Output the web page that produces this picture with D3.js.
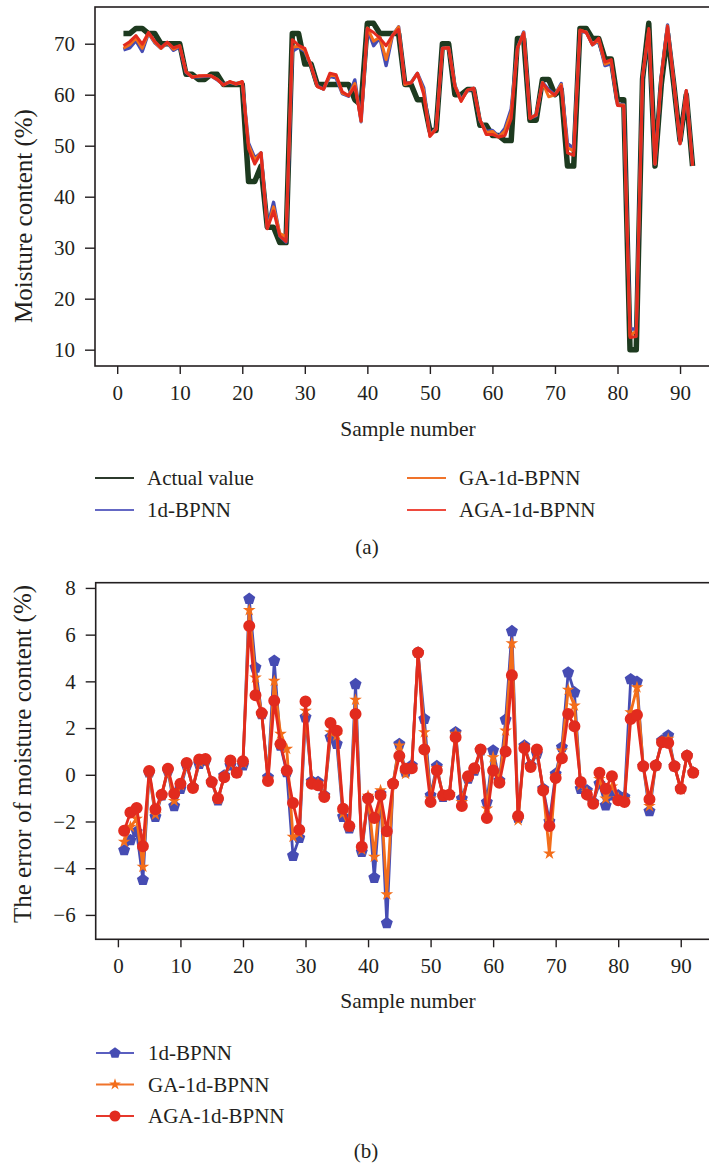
<!DOCTYPE html>
<html>
<head>
<meta charset="utf-8">
<script src="https://cdn.jsdelivr.net/npm/d3@7"></script>
<style>
  body { margin: 0; background: #fff; }
  svg text { font-family: "Liberation Serif", "DejaVu Serif", serif; fill: #231f20; }
</style>
</head>
<body>
<div id="chart"></div>
<script>
// ---- data ----
const actualValue = [72,72,73,73,72,72,70,70,70,70, 64,64,63,63,64,64,62,62,62,62,
  43,43,46,34,34,31,31,72,72,66, 66,62,62,62,62,62,62,59,58,74, 74,72,72,72,72,62,62,59,59,53,
  53,70,70,60,60,61,61,54,54,52, 52,51,51,71,71,55,55,63,63,60, 61,46,46,73,73,71,71,67,67,59,
  59,10,10,63,74,46,62,72,62,51, 60,46];

const bpnnPred = [68.8,69.2,70.6,68.5,72.1,70.2,69.1,70.2,68.7,69.4, 64.4,63.5,63.5,63.6,63.7,62.9,62.0,62.4,62.1,62.4,
  50.5,47.6,48.6,33.9,38.9,32.3,31.1,68.5,69.3,68.5, 65.7,61.7,61.1,63.6,63.3,60.2,59.7,62.9,54.7,73.0,
  69.6,71.2,65.7,71.6,73.3,62.1,62.4,64.2,61.4,52.1, 53.4,69.1,69.2,61.8,59.0,60.8,61.2,55.0,52.8,53.0,
  51.8,53.4,57.2,69.2,72.3,55.4,55.9,62.4,61.0,60.0, 62.2,50.4,49.5,72.4,72.3,69.8,70.6,65.7,66.1,58.1,
  58.1,14.1,14.0,63.4,72.4,46.4,63.5,73.7,62.4,50.4, 60.8,46.1];

const gaPred = [69.1,69.8,71.1,69.1,72.1,70.3,69.1,70.2,68.9,69.6, 64.5,63.5,63.6,63.7,63.7,63.0,61.9,62.5,62.1,62.5,
  50.1,47.2,48.6,33.8,38.0,32.8,32.1,69.3,69.5,68.7, 65.7,61.6,61.1,63.8,63.7,60.3,59.8,62.2,54.8,73.1,
  70.5,71.3,66.9,71.6,73.3,62.0,62.4,64.2,60.8,52.0, 53.3,69.1,69.2,61.8,58.8,60.9,61.2,55.1,52.6,52.8,
  51.7,52.9,56.6,69.1,72.2,55.4,56.0,62.4,59.6,60.0, 62.0,49.6,49.0,72.6,72.3,69.8,70.8,66.0,66.5,58.0,
  58.0,12.7,13.7,63.4,72.7,46.4,63.4,73.5,62.4,50.4, 60.8,46.1];

const agaPred = [69.6,70.4,71.6,69.9,72.2,70.5,69.2,70.3,69.2,69.6, 64.5,63.4,63.7,63.7,63.7,63.0,61.9,62.6,62.1,62.6,
  49.4,46.4,48.6,33.7,37.2,32.3,31.2,70.8,69.7,69.1, 65.6,61.6,61.1,64.2,63.9,60.6,59.8,61.6,54.9,73.0,
  72.2,71.1,69.6,71.6,72.8,62.3,62.3,64.2,60.1,51.8, 53.2,69.1,69.2,61.6,58.7,60.9,61.3,55.1,52.2,52.2,
  51.7,52.0,55.3,69.2,72.1,55.3,56.1,62.3,60.8,59.9, 61.7,48.6,48.1,72.7,72.2,69.8,71.1,66.4,66.9,57.9,
  57.8,12.4,12.6,63.4,73.0,46.4,63.4,73.4,62.4,50.4, 60.8,46.1];

const bpnnError = [-3.23,-2.80,-2.44,-4.50,0.10,-1.80,-0.88,0.18,-1.34,-0.60, 0.40,-0.53,0.47,0.61,-0.31,-1.10,-0.03,0.40,0.09,0.40,
  7.53,4.59,2.60,-0.10,4.88,1.25,0.11,-3.47,-2.70,2.46, -0.28,-0.31,-0.88,1.61,1.32,-1.80,-2.30,3.88,-3.30,-1.00,
  -4.41,-0.81,-6.35,-0.38,1.32,0.11,0.40,5.23,2.39,-0.88, 0.37,-0.95,-0.85,1.82,-1.02,-0.17,0.18,1.04,-1.17,1.04,
  -0.24,2.36,6.15,-1.85,1.25,0.40,0.90,-0.60,-2.00,0.04, 1.18,4.38,3.53,-0.60,-0.67,-1.17,-0.38,-1.31,-0.88,-0.88,
  -0.95,4.09,3.98,0.37,-1.56,0.40,1.46,1.68,0.37,-0.60, 0.82,0.09];

const gaError = [-2.87,-2.23,-1.88,-3.94,0.12,-1.70,-0.86,0.22,-1.12,-0.45, 0.45,-0.55,0.55,0.65,-0.31,-1.05,-0.07,0.50,0.09,0.50,
  7.05,4.16,2.62,-0.17,4.02,1.75,1.11,-2.66,-2.50,2.74, -0.31,-0.38,-0.92,1.82,1.68,-1.66,-2.23,3.21,-3.20,-0.90,
  -3.51,-0.67,-5.12,-0.38,1.25,0.04,0.35,5.23,1.82,-1.02, 0.28,-0.90,-0.85,1.75,-1.17,-0.10,0.23,1.06,-1.45,0.75,
  -0.30,1.89,5.63,-1.95,1.20,0.36,1.00,-0.64,-3.37,-0.05, 1.04,3.64,2.96,-0.45,-0.75,-1.20,-0.18,-1.02,-0.50,-1.00,
  -1.05,2.67,3.74,0.37,-1.34,0.40,1.42,1.54,0.37,-0.62, 0.82,0.09];

const agaError = [-2.40,-1.62,-1.42,-3.06,0.16,-1.48,-0.85,0.26,-0.81,-0.38, 0.50,-0.57,0.65,0.68,-0.31,-1.00,-0.11,0.61,0.09,0.58,
  6.37,3.41,2.64,-0.27,3.17,1.32,0.18,-1.21,-2.35,3.14, -0.38,-0.45,-0.95,2.22,1.89,-1.45,-2.19,2.60,-3.08,-1.02,
  -1.85,-0.88,-2.42,-0.38,0.80,0.26,0.28,5.23,1.08,-1.17, 0.18,-0.88,-0.85,1.61,-1.34,-0.06,0.28,1.08,-1.85,0.18,
  -0.34,1.00,4.26,-1.76,1.14,0.33,1.08,-0.67,-2.19,-0.14, 0.71,2.60,2.08,-0.31,-0.85,-1.24,0.09,-0.60,-0.06,-1.09,
  -1.17,2.39,2.56,0.37,-1.05,0.40,1.39,1.36,0.37,-0.60, 0.82,0.09];

const xTicks = [0, 10, 20, 30, 40, 50, 60, 70, 80, 90];
const yTicksTop = [10, 20, 30, 40, 50, 60, 70];
const yTicksBottom = [-6, -4, -2, 0, 2, 4, 6, 8];

// ---- styles ----
const colors = { actual: "#1d3a1f", bpnn: "#464cb3", ga: "#f36d1a", aga: "#e22b1e", axis: "#231f20" };

// regular pentagon marker (d3 has none)
const symbolPentagon = {
  draw(context, size) {
    const r = Math.sqrt(size / 2.378);
    for (let i = 0; i < 5; i++) {
      const a = -Math.PI / 2 + i * 2 * Math.PI / 5;
      if (i) context.lineTo(r * Math.cos(a), r * Math.sin(a));
      else context.moveTo(r * Math.cos(a), r * Math.sin(a));
    }
    context.closePath();
  }
};

const svg = d3.select("#chart").append("svg")
  .attr("width", 709)
  .attr("height", 1166);

// padded domain like matplotlib's default 5% margins
function padded(values) {
  const [lo, hi] = d3.extent(values);
  const m = (hi - lo) * 0.05;
  return [lo - m, hi + m];
}

function drawAxes(g, x, y, yTicks, box) {
  const xAxis = d3.axisBottom(x).tickValues(xTicks).tickSize(8).tickPadding(11).tickFormat(d3.format("d"));
  const yAxis = d3.axisLeft(y).tickValues(yTicks).tickSize(10).tickPadding(10).tickFormat(d3.format("d"));

  g.append("g").attr("transform", `translate(0,${box.bottom})`).call(xAxis)
    .call(a => a.select(".domain").remove());
  g.append("g").attr("transform", `translate(${box.left},0)`).call(yAxis)
    .call(a => a.select(".domain").remove());

  g.selectAll(".tick line").attr("stroke", colors.axis).attr("stroke-width", 1.4);
  g.selectAll(".tick text").attr("font-size", 21).attr("fill", colors.axis);

  g.append("rect")
    .attr("x", box.left).attr("y", box.top)
    .attr("width", box.right - box.left).attr("height", box.bottom - box.top)
    .attr("fill", "none").attr("stroke", colors.axis).attr("stroke-width", 1.6);
}

// ---- (a) moisture content ----
function drawTop() {
  const box = { left: 95, right: 721, top: 7, bottom: 366 };
  const samples = actualValue.map((d, i) => i + 1);

  const x = d3.scaleLinear().domain(padded(samples)).range([box.left, box.right]);
  const y = d3.scaleLinear().domain(padded(actualValue)).range([box.bottom, box.top]);

  const g = svg.append("g");
  const line = d3.line().x((d, i) => x(i + 1)).y(d => y(d));

  const series = [
    { values: actualValue, color: colors.actual, width: 5.5 },
    { values: bpnnPred, color: colors.bpnn, width: 3.4 },
    { values: gaPred, color: colors.ga, width: 3 },
    { values: agaPred, color: colors.aga, width: 3 }
  ];

  g.selectAll(".series")
    .data(series)
    .join("path")
    .attr("class", "series")
    .attr("d", d => line(d.values))
    .attr("fill", "none")
    .attr("stroke", d => d.color)
    .attr("stroke-width", d => d.width)
    .attr("stroke-linejoin", "round");

  drawAxes(g, x, y, yTicksTop, box);

  g.append("text").attr("x", 408).attr("y", 436).attr("text-anchor", "middle")
    .attr("font-size", 21.5).text("Sample number");
  g.append("text").attr("transform", "translate(32,216) rotate(-90)").attr("text-anchor", "middle")
    .attr("font-size", 25).text("Moisture content (%)");

  const legend = [
    { name: "Actual value", color: "#2c3a2c", col: 0, row: 0 },
    { name: "1d-BPNN", color: "#6468c4", col: 0, row: 1 },
    { name: "GA-1d-BPNN", color: "#f0732a", col: 1, row: 0 },
    { name: "AGA-1d-BPNN", color: "#ee4a3e", col: 1, row: 1 }
  ];
  const lg = g.selectAll(".legend").data(legend).join("g")
    .attr("class", "legend")
    .attr("transform", d => `translate(${d.col ? 407 : 95},${478 + d.row * 32})`);
  lg.append("line").attr("x1", 0).attr("x2", 39)
    .attr("stroke", d => d.color).attr("stroke-width", 1.8);
  lg.append("text").attr("x", 52).attr("y", 7).attr("font-size", 21).text(d => d.name);

  g.append("text").attr("x", 367).attr("y", 554).attr("text-anchor", "middle")
    .attr("font-size", 21).text("(a)");
}

// ---- (b) prediction error ----
function drawBottom() {
  const box = { left: 95.7, right: 721.7, top: 582.7, bottom: 939.3 };
  const samples = agaError.map((d, i) => i + 1);

  const x = d3.scaleLinear().domain(padded(samples)).range([box.left, box.right]);
  const y = d3.scaleLinear().domain(padded(bpnnError.concat(gaError, agaError))).range([box.bottom, box.top]);

  const g = svg.append("g");
  const line = d3.line().x((d, i) => x(i + 1)).y(d => y(d));

  const series = [
    { name: "1d-BPNN", values: bpnnError, color: colors.bpnn, symbol: symbolPentagon, size: 95 },
    { name: "GA-1d-BPNN", values: gaError, color: colors.ga, symbol: d3.symbolStar, size: 50 },
    { name: "AGA-1d-BPNN", values: agaError, color: colors.aga, symbol: d3.symbolCircle, size: 113 }
  ];

  const sg = g.selectAll(".series").data(series).join("g").attr("class", "series");
  sg.append("path")
    .attr("d", d => line(d.values))
    .attr("fill", "none")
    .attr("stroke", d => d.color)
    .attr("stroke-width", 2.8)
    .attr("stroke-linejoin", "round");
  sg.each(function (s) {
    d3.select(this).selectAll(".marker")
      .data(s.values)
      .join("path")
      .attr("class", "marker")
      .attr("transform", (d, i) => `translate(${x(i + 1)},${y(d)})`)
      .attr("d", d3.symbol(s.symbol, s.size))
      .attr("fill", s.color);
  });

  drawAxes(g, x, y, yTicksBottom, box);

  g.append("text").attr("x", 408).attr("y", 1008).attr("text-anchor", "middle")
    .attr("font-size", 21.5).text("Sample number");
  g.append("text").attr("transform", "translate(31,754) rotate(-90)").attr("text-anchor", "middle")
    .attr("font-size", 25).text("The error of moisture content (%)");

  const legendColors = ["#5a5fc0", "#f0732a", "#e6382c"];
  const lg = g.selectAll(".legend").data(series).join("g")
    .attr("class", "legend")
    .attr("transform", (d, i) => `translate(96,${1053 + i * 31.5})`);
  lg.append("line").attr("x1", 0).attr("x2", 38)
    .attr("stroke", (d, i) => legendColors[i]).attr("stroke-width", 1.8);
  lg.append("path").attr("transform", "translate(19,0)")
    .attr("d", d => d3.symbol(d.symbol, d.size * 0.85)())
    .attr("fill", d => d.color);
  lg.append("text").attr("x", 52).attr("y", 7).attr("font-size", 21).text(d => d.name);

  g.append("text").attr("x", 366).attr("y", 1158).attr("text-anchor", "middle")
    .attr("font-size", 21).text("(b)");
}

drawTop();
drawBottom();
</script>
</body>
</html>
